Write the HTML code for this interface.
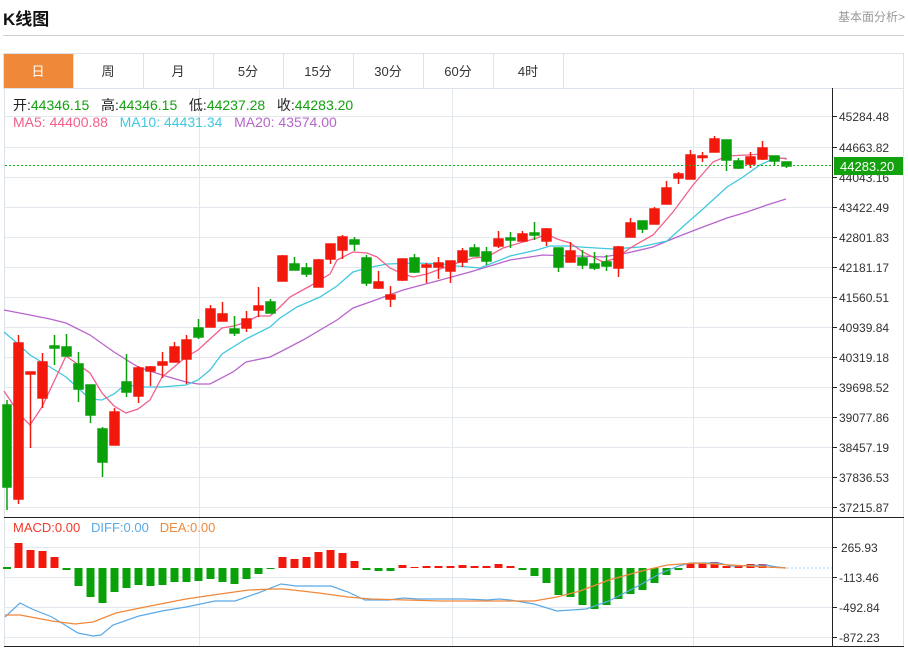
<!DOCTYPE html>
<html><head><meta charset="utf-8"><style>
body{margin:0;background:#fff;width:908px;height:650px;overflow:hidden;position:relative;font-family:"Liberation Sans","Noto Sans CJK SC",sans-serif}
.t{position:absolute;white-space:nowrap}
</style></head><body>
<div class="t" style="left:3px;top:5px;font-size:17px;font-weight:bold;color:#111">K线图</div>
<div class="t" style="right:3px;top:8px;font-size:12px;color:#999">基本面分析&gt;</div>
<div style="position:absolute;left:3px;top:35px;width:901px;height:1px;background:#d0d0d0"></div>
<svg width="908" height="650" style="position:absolute;left:0;top:0" font-family="Liberation Sans, Noto Sans CJK SC, sans-serif">
<rect x="3.5" y="53.5" width="900" height="35" fill="none" stroke="#dde3ea"/>
<rect x="4" y="54" width="69" height="34" fill="#f0883a"/>
<g stroke="#dde3ea"><line x1="73.5" y1="54" x2="73.5" y2="88"/><line x1="143.5" y1="54" x2="143.5" y2="88"/><line x1="213.5" y1="54" x2="213.5" y2="88"/><line x1="283.5" y1="54" x2="283.5" y2="88"/><line x1="353.5" y1="54" x2="353.5" y2="88"/><line x1="423.5" y1="54" x2="423.5" y2="88"/><line x1="493.5" y1="54" x2="493.5" y2="88"/><line x1="563.5" y1="54" x2="563.5" y2="88"/></g>
<g font-size="13" text-anchor="middle" fill="#333"><text x="38" y="76" fill="#fff">日</text><text x="108" y="76">周</text><text x="178" y="76">月</text><text x="248" y="76">5分</text><text x="318" y="76">15分</text><text x="388" y="76">30分</text><text x="458" y="76">60分</text><text x="528" y="76">4时</text></g>
<line x1="4.5" y1="88" x2="4.5" y2="647" stroke="#dde3ea"/>
<line x1="903.5" y1="88" x2="903.5" y2="647" stroke="#dde3ea"/>
<g stroke="#e3e8ee"><line x1="5" y1="116.5" x2="832" y2="116.5"/><line x1="5" y1="147.5" x2="832" y2="147.5"/><line x1="5" y1="177.5" x2="832" y2="177.5"/><line x1="5" y1="207.5" x2="832" y2="207.5"/><line x1="5" y1="237.5" x2="832" y2="237.5"/><line x1="5" y1="267.5" x2="832" y2="267.5"/><line x1="5" y1="297.5" x2="832" y2="297.5"/><line x1="5" y1="327.5" x2="832" y2="327.5"/><line x1="5" y1="357.5" x2="832" y2="357.5"/><line x1="5" y1="387.5" x2="832" y2="387.5"/><line x1="5" y1="417.5" x2="832" y2="417.5"/><line x1="5" y1="447.5" x2="832" y2="447.5"/><line x1="5" y1="477.5" x2="832" y2="477.5"/><line x1="5" y1="507.5" x2="832" y2="507.5"/>
<line x1="5" y1="547.5" x2="832" y2="547.5"/><line x1="5" y1="577.5" x2="832" y2="577.5"/><line x1="5" y1="607.5" x2="832" y2="607.5"/><line x1="5" y1="637.5" x2="832" y2="637.5"/>
<line x1="199.5" y1="88" x2="199.5" y2="647"/><line x1="452.5" y1="88" x2="452.5" y2="647"/><line x1="693.5" y1="88" x2="693.5" y2="647"/></g>
<line x1="832.5" y1="88" x2="832.5" y2="647" stroke="#222"/>
<line x1="4" y1="517.5" x2="904" y2="517.5" stroke="#222"/>
<line x1="4" y1="646.5" x2="904" y2="646.5" stroke="#222"/>
<g stroke="#222"><line x1="832" y1="116.5" x2="837" y2="116.5"/><line x1="832" y1="147.5" x2="837" y2="147.5"/><line x1="832" y1="177.5" x2="837" y2="177.5"/><line x1="832" y1="207.5" x2="837" y2="207.5"/><line x1="832" y1="237.5" x2="837" y2="237.5"/><line x1="832" y1="267.5" x2="837" y2="267.5"/><line x1="832" y1="297.5" x2="837" y2="297.5"/><line x1="832" y1="327.5" x2="837" y2="327.5"/><line x1="832" y1="357.5" x2="837" y2="357.5"/><line x1="832" y1="387.5" x2="837" y2="387.5"/><line x1="832" y1="417.5" x2="837" y2="417.5"/><line x1="832" y1="447.5" x2="837" y2="447.5"/><line x1="832" y1="477.5" x2="837" y2="477.5"/><line x1="832" y1="507.5" x2="837" y2="507.5"/><line x1="832" y1="547.5" x2="837" y2="547.5"/><line x1="832" y1="577.5" x2="837" y2="577.5"/><line x1="832" y1="607.5" x2="837" y2="607.5"/><line x1="832" y1="637.5" x2="837" y2="637.5"/></g>
<g font-size="12" fill="#333"><text x="839" y="121">45284.48</text><text x="839" y="152">44663.82</text><text x="839" y="182">44043.16</text><text x="839" y="212">43422.49</text><text x="839" y="242">42801.83</text><text x="839" y="272">42181.17</text><text x="839" y="302">41560.51</text><text x="839" y="332">40939.84</text><text x="839" y="362">40319.18</text><text x="839" y="392">39698.52</text><text x="839" y="422">39077.86</text><text x="839" y="452">38457.19</text><text x="839" y="482">37836.53</text><text x="839" y="512">37215.87</text>
<text x="841" y="552">265.93</text><text x="839" y="582">-113.46</text><text x="839" y="612">-492.84</text><text x="839" y="642">-872.23</text></g>
<polyline fill="none" stroke="#b865cc" stroke-width="1.3" points="4,310 30,315 50,319 66,323 90,335 114,352 138,367 162,375 186,382 198,384 210,384 233,372 246,362 270,357 280,352 303,340 337,320 353,308 370,302 403,290 437,281 470,272 510,260 543,255 570,256 580,256 603,257 627,253 653,247 677,237 703,227 727,218 747,212 767,205 786,199"/>
<polyline fill="none" stroke="#40c8de" stroke-width="1.3" points="4,332 17,343 30,355 50,367 66,377 90,399 102,400 114,394 126,384 138,387 162,387 186,385 198,380 210,370 222,354 246,339 270,327 280,318 297,307 320,297 337,286 353,272 367,268 387,264 417,263 443,264 457,266 480,268 510,256 537,250 550,246 570,246 580,247 613,249 640,247 667,241 687,223 703,209 727,187 743,177 760,165 773,159 786,158"/>
<polyline fill="none" stroke="#f0608a" stroke-width="1.3" points="4,391 20,415 30,425 42,407 66,356 90,373 102,393 114,406 126,413 138,409 150,400 162,377 174,367 186,357 198,350 210,339 222,328 234,326 246,322 258,316 270,316 280,307 290,297 310,286 330,274 337,260 353,252 367,253 377,257 390,268 403,274 413,277 427,274 443,268 457,263 473,258 487,257 503,248 523,242 537,238 547,234 557,239 570,243 583,252 603,262 617,258 630,248 653,235 673,212 693,185 713,162 727,156 747,155 763,154 773,157 787,159"/>
<g stroke-width="1.5">
<g stroke="#0aa00a" fill="#0aa00a">
<line x1="7" y1="400" x2="7" y2="510"/><rect x="3" y="405" width="8" height="82"/>
<line x1="54.5" y1="335" x2="54.5" y2="365"/><rect x="50" y="346" width="9" height="2"/>
<line x1="66.5" y1="334" x2="66.5" y2="356"/><rect x="62" y="347" width="9" height="9"/>
<line x1="78.5" y1="352" x2="78.5" y2="402"/><rect x="74" y="364" width="9" height="25"/>
<line x1="90.5" y1="385" x2="90.5" y2="423"/><rect x="86" y="385" width="9" height="30"/>
<line x1="102.5" y1="427" x2="102.5" y2="477"/><rect x="98" y="429" width="9" height="33"/>
<line x1="126.5" y1="354" x2="126.5" y2="397"/><rect x="122" y="382" width="9" height="10"/>
<line x1="198.5" y1="319" x2="198.5" y2="339"/><rect x="194" y="328" width="9" height="9"/>
<line x1="234.5" y1="316" x2="234.5" y2="336"/><rect x="230" y="329" width="9" height="4"/>
<line x1="270.5" y1="299" x2="270.5" y2="313"/><rect x="266" y="302" width="9" height="11"/>
<line x1="294.5" y1="257" x2="294.5" y2="270"/><rect x="290" y="264" width="9" height="6"/>
<line x1="306.5" y1="263" x2="306.5" y2="277"/><rect x="302" y="268" width="9" height="6"/>
<line x1="354.5" y1="237" x2="354.5" y2="251"/><rect x="350" y="240" width="9" height="4"/>
<line x1="366.5" y1="255" x2="366.5" y2="286"/><rect x="362" y="258" width="9" height="25"/>
<line x1="414.5" y1="254" x2="414.5" y2="273"/><rect x="410" y="258" width="9" height="14"/>
<line x1="474.5" y1="244" x2="474.5" y2="256"/><rect x="470" y="248" width="9" height="8"/>
<line x1="486.5" y1="247" x2="486.5" y2="265"/><rect x="482" y="252" width="9" height="9"/>
<line x1="510.5" y1="232" x2="510.5" y2="248"/><rect x="506" y="238" width="9" height="2"/>
<line x1="534.5" y1="222" x2="534.5" y2="240"/><rect x="530" y="233" width="9" height="2"/>
<line x1="558.5" y1="248" x2="558.5" y2="272"/><rect x="554" y="248" width="9" height="19"/>
<line x1="582.5" y1="250" x2="582.5" y2="269"/><rect x="578" y="258" width="9" height="7"/>
<line x1="594.5" y1="252" x2="594.5" y2="270"/><rect x="590" y="264" width="9" height="4"/>
<line x1="606.5" y1="255" x2="606.5" y2="271"/><rect x="602" y="262" width="9" height="4"/>
<line x1="642.5" y1="221" x2="642.5" y2="233"/><rect x="638" y="221" width="9" height="8"/>
<line x1="726.5" y1="140" x2="726.5" y2="171"/><rect x="722" y="140" width="9" height="20"/>
<line x1="738.5" y1="158" x2="738.5" y2="169"/><rect x="734" y="161" width="9" height="7"/>
<line x1="774.5" y1="156" x2="774.5" y2="166"/><rect x="770" y="156" width="9" height="5"/>
<line x1="786.5" y1="162" x2="786.5" y2="168"/><rect x="782" y="162" width="9" height="4"/>
</g>
<g stroke="#f2180c" fill="#f2180c">
<line x1="18.5" y1="335" x2="18.5" y2="504"/><rect x="14" y="343" width="9" height="156"/>
<line x1="30.5" y1="373" x2="30.5" y2="448"/><rect x="26" y="372" width="9" height="2"/>
<line x1="42.5" y1="353" x2="42.5" y2="408"/><rect x="38" y="362" width="9" height="36"/>
<line x1="114.5" y1="408" x2="114.5" y2="445"/><rect x="110" y="412" width="9" height="33"/>
<line x1="138.5" y1="366" x2="138.5" y2="403"/><rect x="134" y="368" width="9" height="28"/>
<line x1="150.5" y1="366" x2="150.5" y2="386"/><rect x="146" y="367" width="9" height="4"/>
<line x1="162.5" y1="352" x2="162.5" y2="378"/><rect x="158" y="362" width="9" height="3"/>
<line x1="174.5" y1="342" x2="174.5" y2="362"/><rect x="170" y="347" width="9" height="15"/>
<line x1="186.5" y1="335" x2="186.5" y2="384"/><rect x="182" y="340" width="9" height="19"/>
<line x1="210.5" y1="305" x2="210.5" y2="327"/><rect x="206" y="309" width="9" height="18"/>
<line x1="222.5" y1="302" x2="222.5" y2="321"/><rect x="218" y="314" width="9" height="7"/>
<line x1="246.5" y1="311" x2="246.5" y2="332"/><rect x="242" y="319" width="9" height="9"/>
<line x1="258.5" y1="287" x2="258.5" y2="317"/><rect x="254" y="306" width="9" height="4"/>
<line x1="282.5" y1="255" x2="282.5" y2="281"/><rect x="278" y="256" width="9" height="25"/>
<line x1="318.5" y1="259" x2="318.5" y2="287"/><rect x="314" y="260" width="9" height="27"/>
<line x1="330.5" y1="244" x2="330.5" y2="264"/><rect x="326" y="244" width="9" height="15"/>
<line x1="342.5" y1="235" x2="342.5" y2="259"/><rect x="338" y="237" width="9" height="13"/>
<line x1="378.5" y1="271" x2="378.5" y2="289"/><rect x="374" y="282" width="9" height="6"/>
<line x1="390.5" y1="286" x2="390.5" y2="307"/><rect x="386" y="295" width="9" height="4"/>
<line x1="402.5" y1="259" x2="402.5" y2="281"/><rect x="398" y="259" width="9" height="21"/>
<line x1="426.5" y1="263" x2="426.5" y2="283"/><rect x="422" y="265" width="9" height="2"/>
<line x1="438.5" y1="257" x2="438.5" y2="279"/><rect x="434" y="263" width="9" height="4"/>
<line x1="450.5" y1="261" x2="450.5" y2="283"/><rect x="446" y="261" width="9" height="10"/>
<line x1="462.5" y1="248" x2="462.5" y2="267"/><rect x="458" y="251" width="9" height="11"/>
<line x1="498.5" y1="231" x2="498.5" y2="248"/><rect x="494" y="239" width="9" height="7"/>
<line x1="522.5" y1="231" x2="522.5" y2="241"/><rect x="518" y="234" width="9" height="7"/>
<line x1="546.5" y1="228" x2="546.5" y2="246"/><rect x="542" y="229" width="9" height="12"/>
<line x1="570.5" y1="242" x2="570.5" y2="262"/><rect x="566" y="251" width="9" height="11"/>
<line x1="618.5" y1="246" x2="618.5" y2="277"/><rect x="614" y="247" width="9" height="21"/>
<line x1="630.5" y1="218" x2="630.5" y2="237"/><rect x="626" y="223" width="9" height="14"/>
<line x1="654.5" y1="207" x2="654.5" y2="224"/><rect x="650" y="209" width="9" height="15"/>
<line x1="666.5" y1="181" x2="666.5" y2="204"/><rect x="662" y="188" width="9" height="16"/>
<line x1="678.5" y1="172" x2="678.5" y2="184"/><rect x="674" y="174" width="9" height="4"/>
<line x1="690.5" y1="150" x2="690.5" y2="179"/><rect x="686" y="155" width="9" height="24"/>
<line x1="702.5" y1="152" x2="702.5" y2="162"/><rect x="698" y="156" width="9" height="1.5"/>
<line x1="714.5" y1="136" x2="714.5" y2="152"/><rect x="710" y="139" width="9" height="13"/>
<line x1="750.5" y1="152" x2="750.5" y2="168"/><rect x="746" y="157" width="9" height="7"/>
<line x1="762.5" y1="141" x2="762.5" y2="160"/><rect x="758" y="148" width="9" height="11"/>
</g></g>
<line x1="5" y1="165.5" x2="832" y2="165.5" stroke="#19b319" stroke-dasharray="2,2"/>
<rect x="834" y="157" width="69" height="18" fill="#13a10e"/>
<text x="840" y="171" font-size="13" fill="#fff">44283.20</text>
<line x1="787" y1="568" x2="832" y2="568" stroke="#9fd8ee" stroke-dasharray="2,2"/>
<g fill="#f2180c">
<rect x="14.5" y="543" width="8" height="25"/><rect x="26.5" y="550" width="8" height="18"/><rect x="38.5" y="551" width="8" height="17"/><rect x="50.5" y="557" width="8" height="11"/>
<rect x="278.5" y="557" width="8" height="11"/><rect x="290.5" y="559" width="8" height="9"/><rect x="302.5" y="557" width="8" height="11"/><rect x="314.5" y="552" width="8" height="16"/><rect x="326.5" y="550" width="8" height="18"/><rect x="338.5" y="553" width="8" height="15"/><rect x="350.5" y="561" width="8" height="7"/>
<rect x="398.5" y="565" width="8" height="3"/><rect x="410.5" y="567" width="8" height="1"/><rect x="422.5" y="566" width="8" height="2"/><rect x="434.5" y="566" width="8" height="2"/><rect x="446.5" y="566" width="8" height="2"/><rect x="458.5" y="565" width="8" height="3"/><rect x="470.5" y="566" width="8" height="2"/><rect x="482.5" y="566" width="8" height="2"/><rect x="494.5" y="564" width="8" height="4"/><rect x="506.5" y="566" width="8" height="2"/>
<rect x="686.5" y="563" width="8" height="5"/><rect x="698.5" y="563" width="8" height="5"/><rect x="710.5" y="562" width="8" height="6"/><rect x="722.5" y="566" width="8" height="2"/><rect x="734.5" y="566" width="8" height="2"/><rect x="746.5" y="564" width="8" height="4"/><rect x="758.5" y="564" width="8" height="4"/><rect x="770.5" y="567" width="8" height="1"/>
</g>
<g fill="#0aa00a">
<rect x="3" y="567" width="8" height="2"/><rect x="62.5" y="568" width="8" height="2"/><rect x="74.5" y="568" width="8" height="18"/><rect x="86.5" y="568" width="8" height="29"/><rect x="98.5" y="568" width="8" height="35"/><rect x="110.5" y="568" width="8" height="24"/><rect x="122.5" y="568" width="8" height="20"/><rect x="134.5" y="568" width="8" height="17"/><rect x="146.5" y="568" width="8" height="18"/><rect x="158.5" y="568" width="8" height="17"/><rect x="170.5" y="568" width="8" height="14"/><rect x="182.5" y="568" width="8" height="14"/><rect x="194.5" y="568" width="8" height="13"/><rect x="206.5" y="568" width="8" height="11"/><rect x="218.5" y="568" width="8" height="14"/><rect x="230.5" y="568" width="8" height="16"/><rect x="242.5" y="568" width="8" height="11"/><rect x="254.5" y="568" width="8" height="6"/><rect x="266.5" y="568" width="8" height="1"/>
<rect x="362.5" y="568" width="8" height="2"/><rect x="374.5" y="568" width="8" height="3"/><rect x="386.5" y="568" width="8" height="3"/>
<rect x="518.5" y="568" width="8" height="2"/><rect x="530.5" y="568" width="8" height="8"/><rect x="542.5" y="568" width="8" height="15"/><rect x="554.5" y="568" width="8" height="27"/><rect x="566.5" y="568" width="8" height="29"/><rect x="578.5" y="568" width="8" height="37"/><rect x="590.5" y="568" width="8" height="41"/><rect x="602.5" y="568" width="8" height="37"/><rect x="614.5" y="568" width="8" height="31"/><rect x="626.5" y="568" width="8" height="26"/><rect x="638.5" y="568" width="8" height="22"/><rect x="650.5" y="568" width="8" height="15"/><rect x="662.5" y="568" width="8" height="7"/><rect x="674.5" y="568" width="8" height="2"/>
</g>
<polyline fill="none" stroke="#5aa9e6" stroke-width="1.2" points="5,617 20,603 32,609 52,617 78,633 93,636 101,635 113,625 139,616 162,611 186,607 215,601 235,601 258,593 281,584 296,586 331,586 348,592 365,600 389,600 403,598 418,599 464,599 487,600 499,599 510,600 534,604 557,611 586,609 609,601 638,586 661,573 679,566 690,563 719,563 731,566 766,565 777,567 786,568"/>
<polyline fill="none" stroke="#f0883a" stroke-width="1.3" points="5,615 20,615 52,621 75,624 93,622 116,613 145,607 186,599 220,594 249,590 273,589 284,589 319,593 348,597 371,599 441,601 487,601 534,601 557,597 580,591 609,580 638,572 667,565 696,563 731,565 766,567 786,568"/>
</svg>
<div class="t" style="left:13px;top:95px;font-size:14px;color:#222">开:<span style="color:#13a10e">44346.15</span>&nbsp;&nbsp; 高:<span style="color:#13a10e">44346.15</span>&nbsp;&nbsp; 低:<span style="color:#13a10e">44237.28</span>&nbsp;&nbsp; 收:<span style="color:#13a10e">44283.20</span></div>
<div class="t" style="left:13px;top:114px;font-size:14px"><span style="color:#f0608a">MA5: 44400.88</span>&nbsp;&nbsp; <span style="color:#40c8de">MA10: 44431.34</span>&nbsp;&nbsp; <span style="color:#b865cc">MA20: 43574.00</span></div>
<div class="t" style="left:13px;top:520px;font-size:13px"><span style="color:#f03a2a">MACD:0.00</span>&nbsp;&nbsp; <span style="color:#5aa9e6">DIFF:0.00</span>&nbsp;&nbsp; <span style="color:#f0883a">DEA:0.00</span></div>
</body></html>
